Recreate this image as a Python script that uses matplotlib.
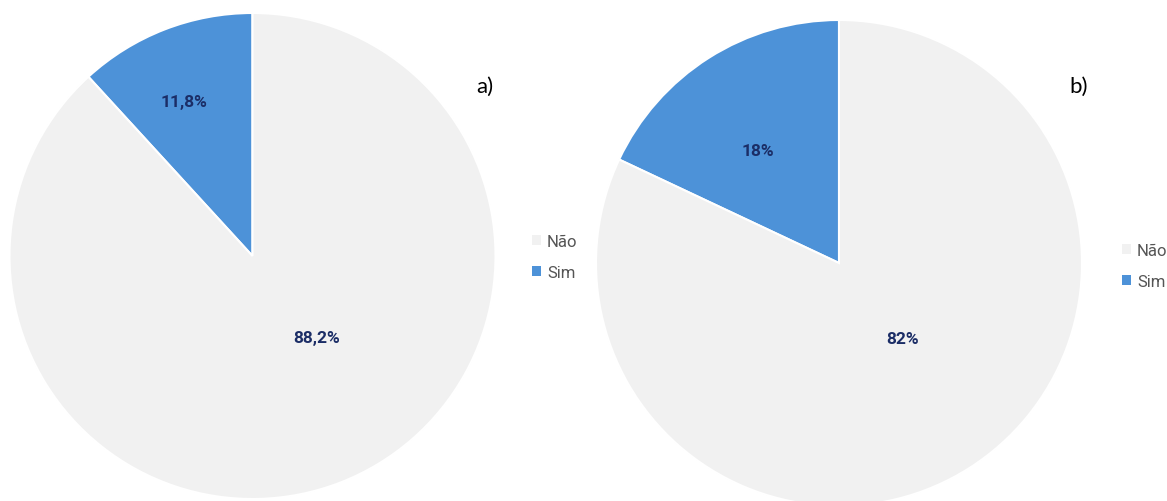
import matplotlib.pyplot as plt
from matplotlib.patches import Patch

# dados
categorias = ['Sim', 'Não']
valores_a = [11.8, 88.2]
valores_b = [18, 82]
rotulos_a = ['11,8%', '88,2%']
rotulos_b = ['18%', '82%']

cor_sim = '#4d92d8'
cor_nao = '#f1f1f1'
cor_rotulo = '#1b2d66'

fig = plt.figure(figsize=(11.67, 5.02), dpi=100)
ax = fig.add_axes([0, 0, 1, 1])

# cada pizza: centro (px), raio (px), offsets dos rótulos (px)
pizzas = [
    (valores_a, rotulos_a, (252.5, 502 - 257), 243, [(-69, 154), (64, -81)], 'a)', (485, 502 - 87), (532, 258)),
    (valores_b, rotulos_b, (839, 502 - 264), 243, [(-81, 113), (64, -76)], 'b)', (1079, 502 - 87), (1122, 267)),
]

for valores, rotulos, centro, raio, offs, letra, pos_letra, pos_leg in pizzas:
    fatias, _ = ax.pie(valores, colors=[cor_sim, cor_nao], startangle=90, counterclock=True,
                       center=centro, radius=raio,
                       wedgeprops=dict(edgecolor='white', linewidth=1.5))
    for txt, (dx, dy) in zip(rotulos, offs):
        ax.text(centro[0] + dx, centro[1] + dy, txt, ha='center', va='center',
                fontsize=12.5, fontweight='bold', color=cor_rotulo, family='Roboto')
    ax.text(pos_letra[0], pos_letra[1], letra, ha='center', va='center',
            fontsize=16, color='black', family='Lato')
    handles = [Patch(facecolor=cor_nao, edgecolor='none'), Patch(facecolor=cor_sim, edgecolor='none')]
    fig.legend(handles, [categorias[1], categorias[0]], loc='center left',
               bbox_to_anchor=(pos_leg[0] / 1167, 1 - pos_leg[1] / 502),
               frameon=False, handlelength=0.55, handleheight=0.55, handletextpad=0.35,
               labelspacing=1.0, borderpad=0, borderaxespad=0,
               prop={'family': 'Roboto', 'size': 12}, labelcolor='#555555')

ax.set_xlim(0, 1167)
ax.set_ylim(0, 502)
ax.set_aspect('equal')
ax.axis('off')

fig.savefig('out.png', dpi=100)
